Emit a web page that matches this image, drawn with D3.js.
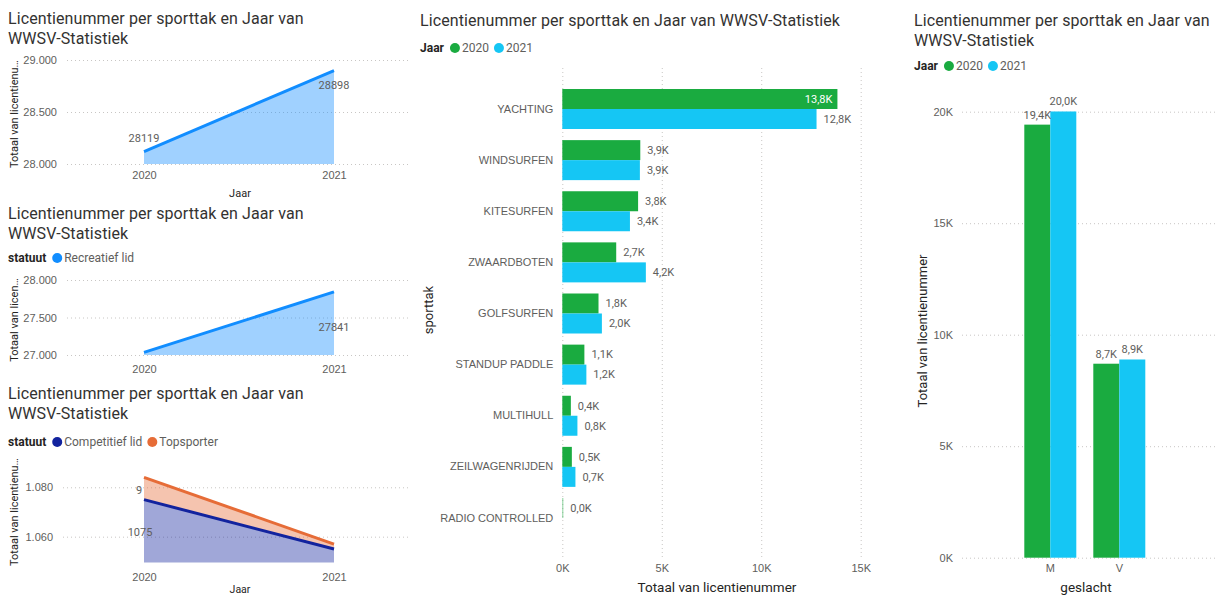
<!DOCTYPE html>
<meta charset="utf-8">
<script src="https://d3js.org/d3.v7.min.js"></script>
<style>
  body { margin: 0; background: #fff; }
  svg { font-family: Roboto, "Noto Sans", sans-serif; }
  .grid line { stroke: #c8c6c4; stroke-dasharray: 1,3; }
  .tick text { fill: #605e5c; }
</style>
<body>
<div id="chart"></div>
<script>

// data
var years = [2020, 2021];
var totaal = [28119, 28898];
var recreatief = [27035, 27841];
var competitief = [1075, 1055];
var topsporter = [9, 2];

var sporttakken = ["YACHTING", "WINDSURFEN", "KITESURFEN", "ZWAARDBOTEN", "GOLFSURFEN",
                   "STANDUP PADDLE", "MULTIHULL", "ZEILWAGENRIJDEN", "RADIO CONTROLLED"];
var sporttak2020 = [13830, 3920, 3810, 2710, 1820, 1110, 430, 480, 9];
var sporttak2021 = [12780, 3900, 3400, 4200, 1990, 1210, 760, 660, null];

var geslachten = ["M", "V"];
var geslacht2020 = [19420, 8699];
var geslacht2021 = [20010, 8888];

var jaren = ["2020", "2021"];
var titel = "Licentienummer per sporttak en Jaar van WWSV-Statistiek";

var blue = "#118dff", navy = "#12239e", orange = "#e66c37";
var green = "#1aab40", cyan = "#15c6f4";
var dark = "#252423", grey = "#605e5c";

var nl = d3.formatLocale({decimal: ",", thousands: ".", grouping: [3], currency: ["€", ""]});
var fmtDot = nl.format(",.0f");
var fmtK = function(v) { return nl.format(".1f")(v / 1000) + "K"; };
var fmtTickK = function(v) { return (v / 1000) + "K"; };

var svg = d3.select("#chart").append("svg")
  .attr("width", 1217)
  .attr("height", 595);

function addTitle(x, y, lines) {
  var t = svg.append("text")
    .attr("x", x).attr("y", y)
    .attr("fill", "#333231")
    .style("font-size", "16px")
    .style("letter-spacing", "0.1px");
  lines.forEach(function(l, i) {
    t.append("tspan").attr("x", x).attr("dy", i == 0 ? 0 : 20).text(l);
  });
}

function addLegend(x, y, name, items, colors) {
  var g = svg.append("g").attr("transform", "translate(" + x + "," + y + ")");
  var t = g.append("text").attr("dy", "0.35em")
    .attr("fill", dark).style("font-size", "12px").style("font-weight", "bold")
    .text(name);
  var cx = t.node().getComputedTextLength() + 11;
  items.forEach(function(it, i) {
    g.append("circle").attr("cx", cx).attr("cy", 0).attr("r", 5).attr("fill", colors[i]);
    var lt = g.append("text").attr("x", cx + 7).attr("dy", "0.35em")
      .attr("fill", grey).style("font-size", "12px").text(it);
    cx += 7 + lt.node().getComputedTextLength() + 10;
  });
}

function yTitle(x, y, txt, size) {
  svg.append("text")
    .attr("transform", "translate(" + x + "," + y + ") rotate(-90)")
    .attr("text-anchor", "middle")
    .attr("dy", "0.35em")
    .attr("fill", dark)
    .style("font-size", size || "11px")
    .text(txt);
}

function xTitle(x, y, txt, size) {
  svg.append("text")
    .attr("x", x).attr("y", y)
    .attr("text-anchor", "middle")
    .attr("fill", dark)
    .style("font-size", size || "11px")
    .text(txt);
}

function leftGrid(y, x0, x1, ticks, fmt) {
  var g = svg.append("g")
    .attr("class", "grid")
    .attr("transform", "translate(" + x0 + ",0)")
    .call(d3.axisLeft(y).tickValues(ticks).tickFormat(fmt)
      .tickSize(-(x1 - x0)).tickPadding(10));
  g.select(".domain").remove();
  g.selectAll(".tick text").style("font-size", "11px");
  return g;
}

function yearAxis(x, yPos) {
  var g = svg.append("g")
    .attr("transform", "translate(0," + yPos + ")")
    .call(d3.axisBottom(x).tickSize(0).tickPadding(7));
  g.select(".domain").remove();
  g.selectAll(".tick text").style("font-size", "11px");
}

// ---------- panel 1: totaal
var x1 = d3.scalePoint().domain(years).range([144, 334]);
var y1 = d3.scaleLinear().domain([28000, 29000]).range([164, 60]);
addTitle(8, 24, ["Licentienummer per sporttak en Jaar van", "WWSV-Statistiek"]);
leftGrid(y1, 67, 410, [28000, 28500, 29000], fmtDot);
svg.append("path")
  .datum(years)
  .attr("fill", blue).attr("fill-opacity", 0.4)
  .attr("d", d3.area()
    .x(function(d) { return x1(d); })
    .y0(y1(28000))
    .y1(function(d, i) { return y1(totaal[i]); }));
svg.append("path")
  .datum(years)
  .attr("fill", "none").attr("stroke", blue).attr("stroke-width", 3)
  .attr("d", d3.line()
    .x(function(d) { return x1(d); })
    .y(function(d, i) { return y1(totaal[i]); }));
svg.selectAll(".lab1")
  .data(years)
  .enter().append("text")
    .attr("x", function(d) { return x1(d); })
    .attr("y", function(d, i) { return y1(totaal[i]) + (i == 0 ? -13 : 15); })
    .attr("dy", "0.35em")
    .attr("text-anchor", "middle")
    .attr("fill", grey)
    .style("font-size", "11px")
    .text(function(d, i) { return totaal[i]; });
yearAxis(x1, 164);
yTitle(14, 114, "Totaal van licentienu\u2026");
xTitle(240, 197, "Jaar");

// ---------- panel 2: recreatief lid
var y2 = d3.scaleLinear().domain([27000, 28000]).range([355, 280]);
addTitle(8, 219, ["Licentienummer per sporttak en Jaar van", "WWSV-Statistiek"]);
addLegend(8, 258, "statuut", ["Recreatief lid"], [blue]);
leftGrid(y2, 67, 410, [27000, 27500, 28000], fmtDot);
svg.append("path")
  .datum(years)
  .attr("fill", blue).attr("fill-opacity", 0.4)
  .attr("d", d3.area()
    .x(function(d) { return x1(d); })
    .y0(y2(27000))
    .y1(function(d, i) { return y2(recreatief[i]); }));
svg.append("path")
  .datum(years)
  .attr("fill", "none").attr("stroke", blue).attr("stroke-width", 3)
  .attr("d", d3.line()
    .x(function(d) { return x1(d); })
    .y(function(d, i) { return y2(recreatief[i]); }));
svg.append("text")
  .attr("x", x1(2021)).attr("y", y2(recreatief[1]) + 35)
  .attr("dy", "0.35em").attr("text-anchor", "middle")
  .attr("fill", grey).style("font-size", "11px")
  .text(recreatief[1]);
yearAxis(x1, 358);
yTitle(14, 320, "Totaal van licen\u2026");

// ---------- panel 3: competitief lid + topsporter (stacked)
var y3 = d3.scaleLinear().domain([1049.5, 1090]).range([562.6, 462.6]);
addTitle(8, 399, ["Licentienummer per sporttak en Jaar van", "WWSV-Statistiek"]);
addLegend(8, 442, "statuut", ["Competitief lid", "Topsporter"], [navy, orange]);
leftGrid(y3, 63, 410, [1060, 1080], fmtDot);
var stack3 = years.map(function(d, i) {
  return {year: d, c: competitief[i], t: competitief[i] + topsporter[i]};
});
svg.append("path")
  .datum(stack3)
  .attr("fill", navy).attr("fill-opacity", 0.4)
  .attr("d", d3.area()
    .x(function(d) { return x1(d.year); })
    .y0(y3(1049.5))
    .y1(function(d) { return y3(d.c); }));
svg.append("path")
  .datum(stack3)
  .attr("fill", orange).attr("fill-opacity", 0.4)
  .attr("d", d3.area()
    .x(function(d) { return x1(d.year); })
    .y0(function(d) { return y3(d.c); })
    .y1(function(d) { return y3(d.t); }));
svg.append("path")
  .datum(stack3)
  .attr("fill", "none").attr("stroke", navy).attr("stroke-width", 3)
  .attr("d", d3.line().x(function(d) { return x1(d.year); }).y(function(d) { return y3(d.c); }));
svg.append("path")
  .datum(stack3)
  .attr("fill", "none").attr("stroke", orange).attr("stroke-width", 3)
  .attr("d", d3.line().x(function(d) { return x1(d.year); }).y(function(d) { return y3(d.t); }));
svg.append("text")
  .attr("x", x1(2020) - 5).attr("y", y3(stack3[0].t) + 13)
  .attr("dy", "0.35em").attr("text-anchor", "middle")
  .attr("fill", grey).style("font-size", "11px").text(topsporter[0]);
svg.append("text")
  .attr("x", x1(2020) - 4).attr("y", y3(stack3[0].c) + 33)
  .attr("dy", "0.35em").attr("text-anchor", "middle")
  .attr("fill", grey).style("font-size", "11px").text(competitief[0]);
yearAxis(x1, 566);
yTitle(14, 512, "Totaal van licentienu\u2026");
xTitle(240, 593, "Jaar", "10.5px");

// ---------- panel 4: per sporttak
addTitle(420, 26, [titel]);
addLegend(420, 48, "Jaar", jaren, [green, cyan]);
var x4 = d3.scaleLinear().domain([0, 15000]).range([562.3, 860.7]);
var y4 = d3.scaleBand().domain(sporttakken).range([89, 538]).paddingInner(0.2176);
var sub4 = d3.scaleBand().domain(jaren).range([0, y4.bandwidth()]);

var g4 = svg.append("g")
  .attr("class", "grid")
  .attr("transform", "translate(0,557)")
  .call(d3.axisBottom(x4).tickValues([0, 5000, 10000, 15000]).tickFormat(fmtTickK)
    .tickSize(-(557 - 68)).tickPadding(7));
g4.select(".domain").remove();
g4.selectAll(".tick text").style("font-size", "11px");

var c4 = svg.append("g")
  .attr("transform", "translate(562.3,0)")
  .call(d3.axisLeft(y4).tickSize(0).tickPadding(9));
c4.select(".domain").remove();
c4.selectAll(".tick text").style("font-size", "11px");

var rows = [];
sporttakken.forEach(function(s, i) {
  rows.push({cat: s, jaar: "2020", v: sporttak2020[i]});
  if (sporttak2021[i] != null) rows.push({cat: s, jaar: "2021", v: sporttak2021[i]});
});
svg.selectAll(".bar4")
  .data(rows)
  .enter().append("rect")
    .attr("x", x4(0))
    .attr("y", function(d) { return y4(d.cat) + sub4(d.jaar); })
    .attr("width", function(d) { return Math.max(1, x4(d.v) - x4(0)); })
    .attr("height", sub4.bandwidth())
    .attr("fill", function(d) { return d.jaar == "2020" ? green : cyan; })
    .attr("fill-opacity", function(d) { return d.v < 50 ? 0.5 : 1; });
svg.selectAll(".lab4")
  .data(rows)
  .enter().append("text")
    .attr("x", function(d) {
      var inside = x4(d.v) + 40 > x4(15000);
      return inside ? x4(d.v) - 5 : Math.max(x4(d.v), x4(0) + 1) + 7;
    })
    .attr("y", function(d) { return y4(d.cat) + sub4(d.jaar) + sub4.bandwidth() / 2; })
    .attr("dy", "0.35em")
    .attr("text-anchor", function(d) { return x4(d.v) + 40 > x4(15000) ? "end" : "start"; })
    .attr("fill", function(d) { return x4(d.v) + 40 > x4(15000) ? "#fff" : grey; })
    .style("font-size", "11px")
    .text(function(d) { return fmtK(d.v); });
yTitle(428, 310, "sporttak", "13px");
xTitle(717, 592, "Totaal van licentienummer", "13.5px");

// ---------- panel 5: per geslacht
addTitle(914, 26, ["Licentienummer per sporttak en Jaar van", "WWSV-Statistiek"]);
addLegend(914, 66, "Jaar", jaren, [green, cyan]);
var y5 = d3.scaleLinear().domain([0, 20000]).range([557.7, 111.7]);
var x5 = d3.scaleBand().domain(geslachten).range([1024.3, 1145.3]).paddingInner(17 / 69);
var sub5 = d3.scaleBand().domain(jaren).range([0, x5.bandwidth()]);

var g5 = svg.append("g")
  .attr("class", "grid")
  .attr("transform", "translate(962,0)")
  .call(d3.axisLeft(y5).tickValues([0, 5000, 10000, 15000, 20000]).tickFormat(fmtTickK)
    .tickSize(-(1217 - 962)).tickPadding(9));
g5.select(".domain").remove();
g5.selectAll(".tick text").style("font-size", "11px");

var c5 = svg.append("g")
  .attr("transform", "translate(0,557.7)")
  .call(d3.axisBottom(x5).tickSize(0).tickPadding(7));
c5.select(".domain").remove();
c5.selectAll(".tick text").style("font-size", "11px");

var rows5 = [];
geslachten.forEach(function(s, i) {
  rows5.push({cat: s, jaar: "2020", v: geslacht2020[i]});
  rows5.push({cat: s, jaar: "2021", v: geslacht2021[i]});
});
svg.selectAll(".bar5")
  .data(rows5)
  .enter().append("rect")
    .attr("x", function(d) { return x5(d.cat) + sub5(d.jaar); })
    .attr("y", function(d) { return y5(d.v); })
    .attr("width", sub5.bandwidth())
    .attr("height", function(d) { return y5(0) - y5(d.v); })
    .attr("fill", function(d) { return d.jaar == "2020" ? green : cyan; });
svg.selectAll(".lab5")
  .data(rows5)
  .enter().append("text")
    .attr("x", function(d) { return x5(d.cat) + sub5(d.jaar) + sub5.bandwidth() / 2; })
    .attr("y", function(d) { return y5(d.v) - 6; })
    .attr("text-anchor", "middle")
    .attr("fill", grey)
    .style("font-size", "11px")
    .text(function(d) { return fmtK(d.v); });
yTitle(922, 331, "Totaal van licentienummer", "13px");
xTitle(1086, 592, "geslacht", "13.5px");

</script>
